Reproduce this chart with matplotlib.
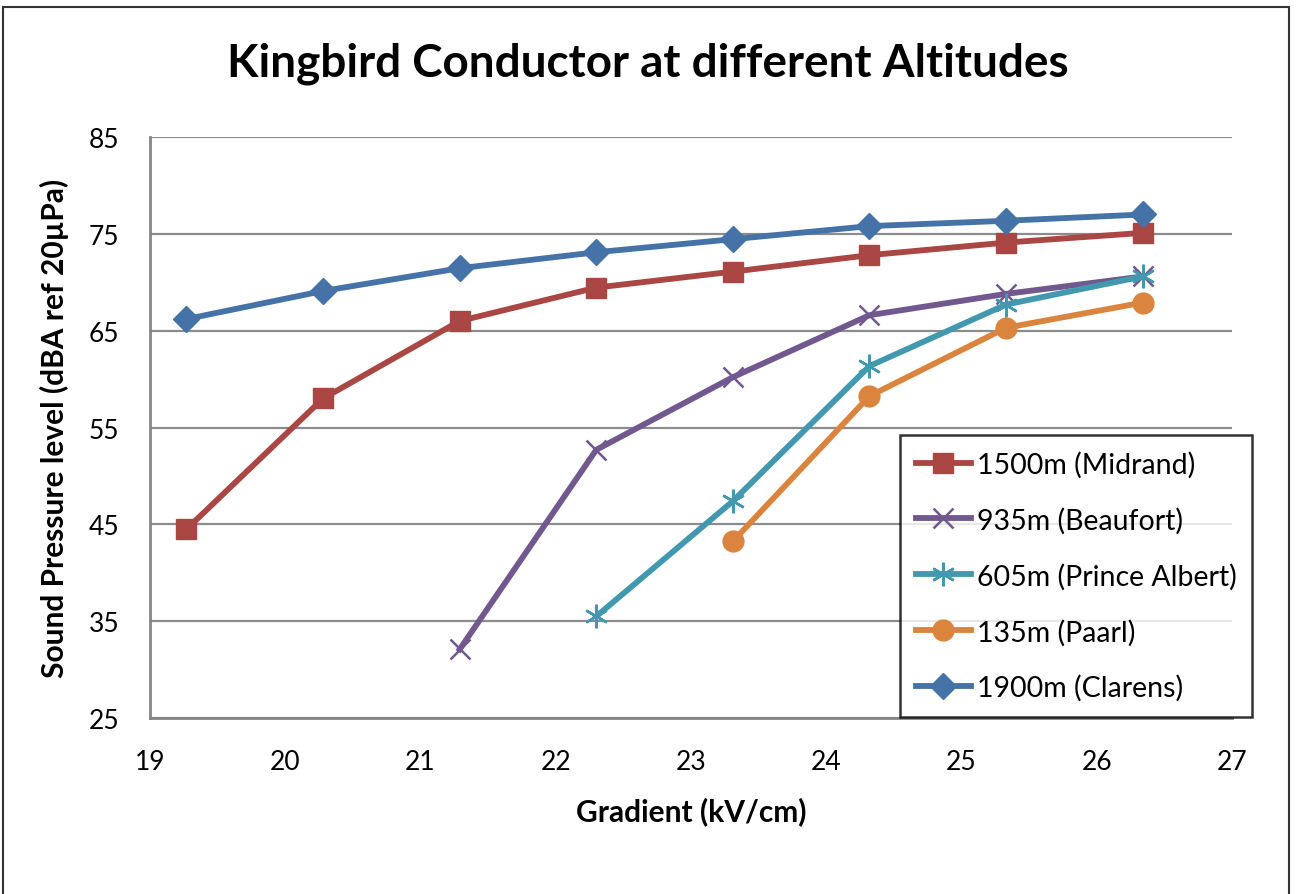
import matplotlib
matplotlib.use("Agg")
import matplotlib.pyplot as plt
from matplotlib.patches import Rectangle

plt.rcParams['font.family'] = ['Lato', 'DejaVu Sans']

gradient = [19.27, 20.28, 21.29, 22.30, 23.31, 24.32, 25.33, 26.34]

midrand_x = gradient
midrand_y = [44.5, 58.0, 66.0, 69.45, 71.1, 72.8, 74.1, 75.1]

beaufort_x = gradient[2:]
beaufort_y = [32.1, 52.7, 60.2, 66.6, 68.8, 70.6]

prince_x = gradient[3:]
prince_y = [35.5, 47.4, 61.35, 67.7, 70.6]

paarl_x = gradient[4:]
paarl_y = [43.25, 58.25, 65.3, 67.9]

clarens_x = gradient
clarens_y = [66.2, 69.1, 71.45, 73.1, 74.45, 75.8, 76.35, 77.0]

labels = ["1500m (Midrand)", "935m (Beaufort)", "605m (Prince Albert)",
          "135m (Paarl)", "1900m (Clarens)"]
colors = ["#AA4643", "#71588F", "#4198AF", "#DB843D", "#4572A7"]

fig = plt.figure(figsize=(12.96, 8.95), dpi=100)
ax = fig.add_axes([0.1157, 0.1966, 0.8349, 0.6492])

lw = 4.2
ax.plot(midrand_x, midrand_y, color=colors[0], lw=lw, marker='s', ms=15,
        mec=colors[0], mfc=colors[0], label=labels[0], zorder=3)
ax.plot(beaufort_x, beaufort_y, color=colors[1], lw=lw, marker='x', ms=15,
        mew=1.8, mec=colors[1], label=labels[1], zorder=3)
ax.plot(prince_x, prince_y, color=colors[2], lw=lw, marker=(6, 2, 0), ms=17,
        mew=1.8, mec=colors[2], label=labels[2], zorder=3)
ax.plot(paarl_x, paarl_y, color=colors[3], lw=lw, marker='o', ms=15,
        mec=colors[3], mfc=colors[3], label=labels[3], zorder=3)
ax.plot(clarens_x, clarens_y, color=colors[4], lw=lw, marker='D', ms=13.5,
        mec=colors[4], mfc=colors[4], label=labels[4], zorder=4)

ax.set_xlim(19, 27)
ax.set_ylim(25, 85)
ax.set_xticks(range(19, 28))
ax.set_yticks(range(25, 86, 10))
ax.yaxis.grid(True, color='#8C8C8C', lw=1.6)
ax.set_axisbelow(True)
ax.tick_params(length=0, labelsize=19)
ax.tick_params(axis='x', pad=22)
ax.tick_params(axis='y', pad=22)
for s in ['top', 'right']:
    ax.spines[s].set_visible(False)
for s in ['left', 'bottom']:
    ax.spines[s].set_color('#868686')
    ax.spines[s].set_linewidth(2)

ax.set_xlabel("Gradient (kV/cm)", fontsize=21.5, fontweight='bold', labelpad=16)
ax.set_ylabel("Sound Pressure level (dBA ref 20\u00b5Pa)", fontsize=21.5,
              fontweight='bold', labelpad=14)

fig.text(0.5, 0.929, "Kingbird Conductor at different Altitudes",
         ha='center', va='center', fontsize=33, fontweight='bold')

leg = ax.legend(loc='upper left', bbox_to_anchor=(900/1296, 1 - 436/895),
                bbox_transform=fig.transFigure, fontsize=20.5, frameon=True,
                fancybox=False, edgecolor='black', handlelength=1.95,
                labelspacing=1.02, borderpad=0.55, handletextpad=0.2,
                borderaxespad=0)
leg.get_frame().set_linewidth(1.8)

fig.patches.append(Rectangle((3/1296, -0.05), 1286/1296, 1.05 - 8/895,
                             transform=fig.transFigure, fill=False,
                             edgecolor='#333333', lw=1.5))

fig.savefig("out.png", dpi=100)
